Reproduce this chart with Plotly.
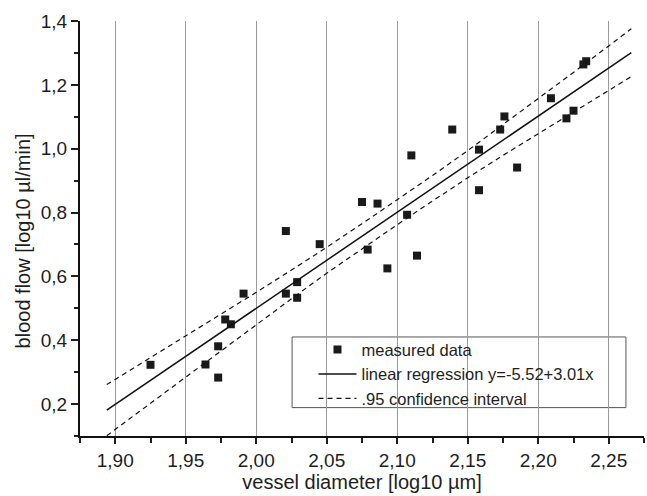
import plotly.graph_objects as go

# measured data (log10 vessel diameter [µm], log10 blood flow [µl/min])
diameter = [1.925, 1.964, 1.973, 1.973, 1.978, 1.982, 1.991, 2.021, 2.021, 2.029,
            2.029, 2.045, 2.075, 2.079, 2.086, 2.093, 2.107, 2.110, 2.114, 2.139,
            2.158, 2.158, 2.173, 2.176, 2.185, 2.209, 2.220, 2.225, 2.232, 2.234]
flow = [0.323, 0.324, 0.283, 0.381, 0.465, 0.450, 0.546, 0.742, 0.546, 0.582,
        0.533, 0.701, 0.833, 0.684, 0.828, 0.625, 0.793, 0.979, 0.665, 1.060,
        0.997, 0.870, 1.060, 1.101, 0.941, 1.158, 1.095, 1.119, 1.264, 1.274]

# regression y = -5.52 + 3.01 x
reg_intercept = -5.52
reg_slope = 3.01
reg_x = [1.894, 2.266]
reg_y = [reg_intercept + reg_slope * v for v in reg_x]

# .95 confidence band
band_x = [1.894, 1.925, 1.95, 1.975, 2.00, 2.025, 2.05, 2.075, 2.10, 2.125,
          2.15, 2.175, 2.20, 2.225, 2.25, 2.266]
band_upper = [0.261, 0.345, 0.413, 0.482, 0.550, 0.620, 0.691, 0.765, 0.840, 0.916,
              0.994, 1.075, 1.157, 1.239, 1.322, 1.376]
band_lower = [0.101, 0.203, 0.286, 0.368, 0.450, 0.530, 0.610, 0.687, 0.762, 0.836,
              0.909, 0.979, 1.047, 1.115, 1.183, 1.226]

x_tick_vals = [1.90, 1.95, 2.00, 2.05, 2.10, 2.15, 2.20, 2.25]
x_tick_text = ["1,90", "1,95", "2,00", "2,05", "2,10", "2,15", "2,20", "2,25"]
y_tick_vals = [0.2, 0.4, 0.6, 0.8, 1.0, 1.2, 1.4]
y_tick_text = ["0,2", "0,4", "0,6", "0,8", "1,0", "1,2", "1,4"]

x_title = "vessel diameter [log10 µm]"
y_title = "blood flow [log10 µl/min]"

FONT = "Liberation Sans, Arial, Helvetica, sans-serif"
INK = "#1e1e1e"

fig = go.Figure()
fig.add_trace(go.Scatter(
    x=diameter, y=flow, mode="markers", name="measured data",
    marker=dict(symbol="square", size=8, color="#1a1a1a"),
))
fig.add_trace(go.Scatter(
    x=reg_x, y=reg_y, mode="lines", name="linear regression y=-5.52+3.01x",
    line=dict(color="#111111", width=1.5),
))
fig.add_trace(go.Scatter(
    x=band_x, y=band_upper, mode="lines", name=".95 confidence interval",
    line=dict(color="#111111", width=1.2, dash="5px,4px"), legendgroup="ci",
))
fig.add_trace(go.Scatter(
    x=band_x, y=band_lower, mode="lines", name=".95 confidence interval",
    line=dict(color="#111111", width=1.2, dash="5px,4px"), legendgroup="ci",
    showlegend=False,
))

xr = [1.875, 2.275]
yr = [0.1, 1.4]

fig.update_layout(
    width=647, height=496,
    margin=dict(l=80, r=3, t=21, b=60, autoexpand=False),
    paper_bgcolor="white", plot_bgcolor="white",
    font=dict(family=FONT, size=19, color=INK),
    showlegend=True,
    legend=dict(
        x=0.414, y=0.250, xanchor="left", yanchor="top",
        bgcolor="rgba(0,0,0,0)", borderwidth=0,
        font=dict(size=16.5, color=INK), itemwidth=38,
        tracegroupgap=0,
    ),
    xaxis=dict(
        range=xr, tickmode="array", tickvals=x_tick_vals, ticktext=x_tick_text,
        ticks="outside", ticklen=6, tickwidth=1.5, tickcolor=INK,
        minor=dict(ticks="outside", dtick=0.025, tick0=1.9, ticklen=5, tickwidth=1.5,
                   tickcolor=INK, showgrid=False),
        showgrid=True, gridcolor="#9a9a9a", gridwidth=1,
        showline=True, linecolor="#111111", linewidth=2,
        zeroline=False, automargin=False,
        title=dict(text=x_title, font=dict(size=20), standoff=4),
        tickfont=dict(size=19),
    ),
    yaxis=dict(
        range=yr, tickmode="array", tickvals=y_tick_vals, ticktext=y_tick_text,
        ticks="outside", ticklen=7, tickwidth=1.5, tickcolor=INK,
        minor=dict(ticks="outside", dtick=0.1, tick0=0.1, ticklen=4, tickwidth=1.5,
                   tickcolor=INK, showgrid=False),
        showgrid=False,
        showline=True, linecolor="#111111", linewidth=2,
        zeroline=False, automargin=False,
        tickfont=dict(size=19),
    ),
    xaxis2=dict(
        overlaying="x", side="top", range=xr, showticklabels=False,
        tickmode="array", tickvals=x_tick_vals,
        ticks="inside", ticklen=7, tickwidth=1.2, tickcolor=INK,
        minor=dict(ticks="inside", dtick=0.025, tick0=1.9, ticklen=4, tickwidth=1.2,
                   tickcolor=INK, showgrid=False),
        showgrid=False, showline=True, linecolor="#8a8a8a", linewidth=1,
        zeroline=False, automargin=False,
    ),
    yaxis2=dict(
        overlaying="y", side="right", range=yr, showticklabels=False,
        tickmode="linear", tick0=0.1, dtick=0.1,
        ticks="inside", ticklen=5, tickwidth=1.2, tickcolor=INK,
        showgrid=False, showline=True, linecolor="#444444", linewidth=1.5,
        zeroline=False, automargin=False,
    ),
    shapes=[dict(
        type="rect", xref="paper", yref="paper",
        x0=0.376, x1=0.968, y0=0.0684, y1=0.2386,
        line=dict(color="#555555", width=1), fillcolor="white", layer="below",
    )],
    annotations=[dict(
        text=y_title, textangle=-90, xref="paper", yref="paper",
        x=-0.101, y=0.469, xanchor="center", yanchor="middle",
        showarrow=False, font=dict(size=20, color=INK),
    )],
)

fig.write_html(
    "out.html",
    config={"displayModeBar": False},
    post_script="document.body.style.margin='0px';document.body.style.padding='0px';",
)
